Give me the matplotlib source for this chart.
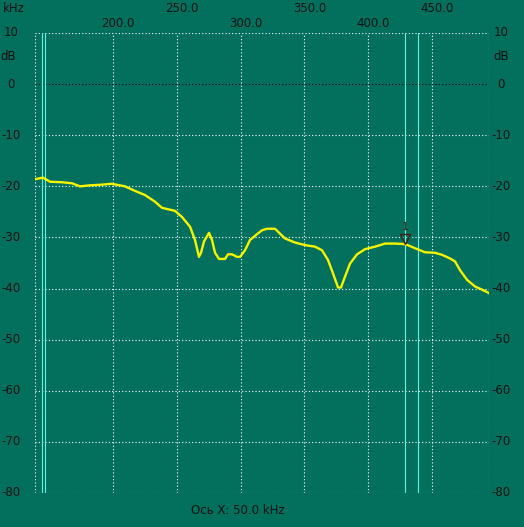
import matplotlib.pyplot as plt
from matplotlib import transforms

# Spectrum trace
freq_khz = [138.9, 145.2, 150.7, 160.1, 167.9, 174.2, 182.0, 189.8, 199.2, 209.4,
            217.3, 225.1, 232.9, 238.4, 248.6, 254.1, 260.4, 264.3, 267.4, 269.0,
            271.3, 275.3, 277.6, 280.0, 283.1, 287.8, 290.2, 293.3, 297.2, 299.6,
            303.5, 307.4, 313.7, 316.8, 320.7, 327.0, 334.8, 342.7, 350.5, 358.3,
            363.8, 368.5, 372.4, 376.4, 378.7, 381.8, 385.8, 391.3, 397.5, 405.4,
            413.2, 421.0, 428.9, 436.7, 444.5, 452.4, 457.9, 464.1, 468.1, 472.0,
            477.5, 483.8, 490.0, 494.7]
level_db = [-18.6, -18.3, -19.1, -19.2, -19.4, -20.0, -19.8, -19.7, -19.5, -20.0,
            -20.9, -21.7, -23.0, -24.2, -24.8, -26.0, -27.9, -30.5, -33.8, -33.0,
            -30.8, -29.1, -30.5, -33.0, -34.2, -34.2, -33.3, -33.3, -33.8, -33.8,
            -32.5, -30.5, -29.2, -28.6, -28.3, -28.3, -30.2, -31.0, -31.5, -31.8,
            -32.5, -34.4, -37.0, -39.8, -39.8, -37.7, -35.1, -33.3, -32.3, -31.8,
            -31.2, -31.2, -31.3, -32.1, -32.9, -33.0, -33.4, -34.1, -34.7, -36.4,
            -38.3, -39.6, -40.3, -40.9]

# Cursor lines (kHz) and marker 1
cursor_khz = [144.7, 147.0, 428.9, 439.1]
marker_khz = 428.9
marker_db = -31.3

x_ticks = [200, 250, 300, 350, 400, 450]
y_ticks = [10, 0, -10, -20, -30, -40, -50, -60, -70, -80]
x_min, x_max = 138.9, 494.7
y_min, y_max = -80, 10

BG = '#03705e'
TXT = '#111111'


def draw_grid(ax):
    dots = (0, (1, 2))
    for x in x_ticks:
        ax.axvline(x, color='white', lw=0.8, ls=dots)
    for y in y_ticks:
        c = 'black' if y == 0 else 'white'
        ax.axhline(y, color=c, lw=0.8, ls=dots)
    ax.axvline(x_min, color='white', lw=0.8, ls=dots)
    ax.axvline(x_max, color='white', lw=0.8, ls=dots)


def draw_labels(fig, ax):
    xform = transforms.blended_transform_factory(ax.transData, fig.transFigure)
    for i, x in enumerate(x_ticks):
        ypos = 1 - 23.5 / 527 if i % 2 == 0 else 1 - 9 / 527
        t = transforms.offset_copy(xform, fig=fig, x=5, y=0, units='dots')
        ax.text(x, ypos, f"{x:.1f}", transform=t, ha='center', va='center',
                fontsize=8.5, color=TXT)
    fig.text(3 / 524, 1 - 9 / 527, 'kHz', ha='left', va='center', fontsize=8.5, color=TXT)

    yform_l = transforms.blended_transform_factory(fig.transFigure, ax.transData)
    for y in y_ticks:
        ax.text(11 / 524, y, f"{y}", transform=yform_l, ha='center', va='center',
                fontsize=8.5, color=TXT)
        ax.text(501 / 524, y, f"{y}", transform=yform_l, ha='center', va='center',
                fontsize=8.5, color=TXT)
    fig.text(8 / 524, 1 - 57 / 527, 'dB', ha='center', va='center', fontsize=8.5, color=TXT)
    fig.text(501 / 524, 1 - 57 / 527, 'dB', ha='center', va='center', fontsize=8.5, color=TXT)
    fig.text(238 / 524, 1 - 511 / 527, 'Ось X: 50.0 kHz', ha='center', va='center',
             fontsize=8.5, color=TXT)


def main():
    fig = plt.figure(figsize=(5.24, 5.27), dpi=100, facecolor=BG)
    ax = fig.add_axes([35 / 524, 34 / 527, 454 / 524, 460 / 527])
    ax.set_facecolor(BG)
    ax.set_xlim(x_min, x_max)
    ax.set_ylim(y_min, y_max)
    ax.set_xticks([])
    ax.set_yticks([])
    for s in ax.spines.values():
        s.set_visible(False)

    draw_grid(ax)

    for x in cursor_khz:
        ax.axvline(x, color='#5ff2e0', lw=0.8)

    ax.plot(freq_khz, level_db, color='#f5f500', lw=1.7, solid_joinstyle='round')

    # marker 1: triangle tip sits on the trace, number above it
    ax.plot(marker_khz, marker_db + 0.9, marker='v', ms=7, mfc='none', mec='#4a1c14',
            mew=1, zorder=5)
    ax.text(marker_khz, marker_db + 2.3, '1', ha='center', va='bottom',
            fontsize=8, color='#4a1c14', zorder=5)

    draw_labels(fig, ax)
    fig.savefig('out.png', dpi=100, facecolor=BG)


if __name__ == "__main__":
    main()
